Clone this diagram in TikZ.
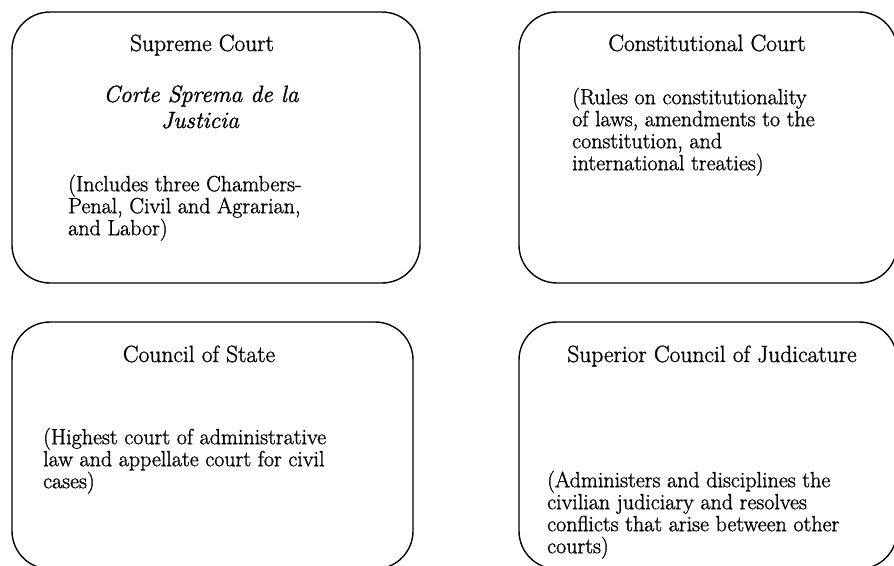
\documentclass[tikz,border=0pt]{standalone}
\usepackage{fontspec}
\setmainfont{Latin Modern Roman}[FakeBold=1.2]
\begin{document}
\begin{tikzpicture}[x=1pt,y=-1pt,
  court/.style={draw=black, line width=1.4pt, rounded corners=38pt, rectangle, inner sep=0pt},
  head/.style={font=\fontsize{23.5}{26}\selectfont, anchor=base, inner sep=0pt},
  ital/.style={font=\fontsize{23.5}{26}\selectfont\itshape, anchor=base, inner sep=0pt},
  body/.style={font=\fontsize{22}{22}\selectfont, align=left, anchor=north west, inner sep=0pt}]
\useasboundingbox (0,0) rectangle (894,565);
\begin{scope}
\clip (0,0) rectangle (894,565);
\node[court, minimum width=408pt, minimum height=271pt] (b1) at (216,147.5) {};
\node[court, minimum width=378pt, minimum height=271pt] (b2) at (708,147.5) {};
\node[court, minimum width=401pt, minimum height=247pt] (b3) at (212.5,445.5) {};
\node[court, minimum width=378pt, minimum height=247pt] (b4) at (708,445.5) {};
\end{scope}
% Supreme Court
\node[head] (t1) at (202,51) {Supreme Court};
\node[ital] (i1) at (201,102) {Corte Sprema de la};
\node[ital] (i2) at (200,128) {Justicia};
\node[body] (p1) at (68,174) {\rule{0pt}{17pt}(Includes three Chambers-\\Penal, Civil and Agrarian,\\and Labor)};
% Constitutional Court
\node[head] (t2) at (707,51) {Constitutional Court};
\node[body] (p2) at (572,87) {\rule{0pt}{17pt}(Rules on constitutionality\\of laws, amendments to the\\constitution, and\\international treaties)};
% Council of State
\node[head] (t3) at (199,362) {Council of State};
\node[body] (p3) at (43,427) {\rule{0pt}{17pt}(Highest court of administrative\\law and appellate court for civil\\cases)};
% Superior Council of Judicature
\node[head] (t4) at (712,362) {Superior Council of Judicature};
\node[body] (p4) at (547,470) {\rule{0pt}{17pt}(Administers and disciplines the\\civilian judiciary and resolves\\conflicts that arise between other\\courts)};
\end{tikzpicture}
\end{document}
